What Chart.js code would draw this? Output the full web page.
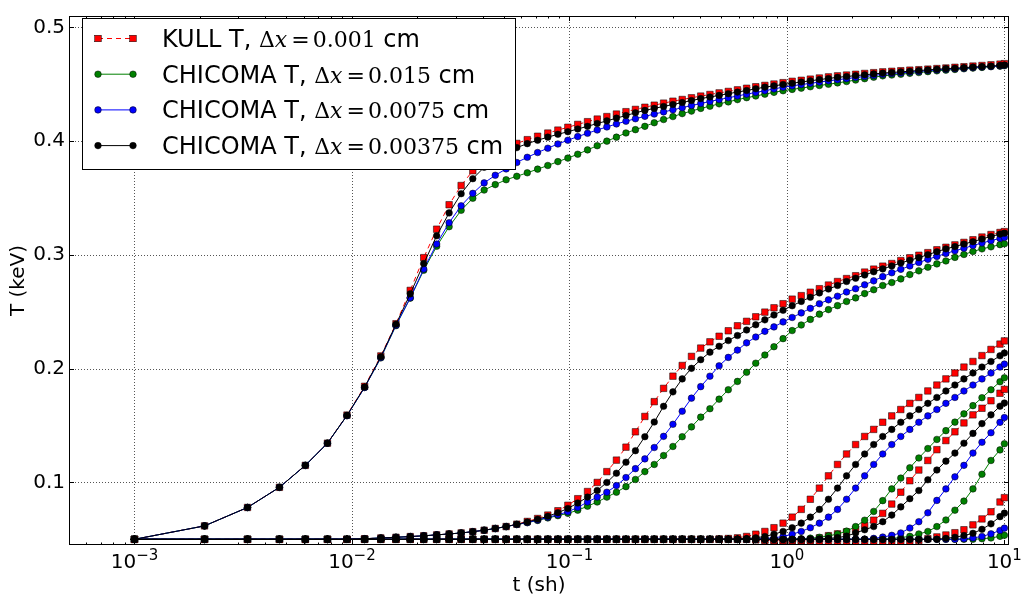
<!DOCTYPE html>
<html><head><meta charset="utf-8">
<script src="https://cdn.jsdelivr.net/npm/chart.js@4.4.1/dist/chart.umd.min.js"></script>
<style>html,body{margin:0;padding:0;background:#fff;}canvas{display:block;}</style>
</head><body>
<canvas id="c" width="1023" height="601"></canvas>
<script>
// ---- data ----
const times = [
0.001,0.0021,0.00331,0.004641,0.006105,0.007716,0.009487,0.011436,0.013579,0.015937,
0.018531,0.021384,0.024523,0.027975,0.031773,0.03595,0.040545,0.045599,0.051159,0.057275,
0.064003,0.071403,0.079543,0.088497,0.098347,0.109182,0.1211,0.13421,0.14863,0.16449,
0.18194,0.20114,0.22225,0.24548,0.27102,0.29913,0.33004,0.36404,0.40145,0.44259,
0.48785,0.53764,0.5924,0.65264,0.7189,0.7918,0.87197,0.96017,1.05719,1.16391,
1.2813,1.41043,1.55247,1.70872,1.88059,2.06965,2.27762,2.50638,2.75802,3.03481,
3.3393,3.67423,4.04165,4.44692,4.89271,5.38308,5.92249,6.51584,7.16851,7.8864,
8.67622,9.54494,10.0];

// KULL, dx = 0.001 cm (red squares)
const kullA = [
0.05,0.0618,0.078,0.0957,0.115,0.1345,0.1592,0.1845,0.2112,0.2395,
0.2688,0.2976,0.3226,0.3441,0.361,0.374,0.3835,0.39,0.3945,0.398,
0.4013,0.4043,0.4071,0.4097,0.4122,0.4147,0.4171,0.4194,0.4216,0.4238,
0.4259,0.4279,0.4298,0.4316,0.4334,0.4351,0.4366,0.4381,0.4396,0.441,
0.4424,0.4437,0.4451,0.4465,0.4478,0.449,0.4502,0.4514,0.4526,0.4535,
0.4545,0.4555,0.4565,0.4574,0.4581,0.4588,0.4595,0.4602,0.4609,0.4614,
0.4619,0.4624,0.4628,0.4633,0.4638,0.4643,0.4649,0.4654,0.466,0.4665,
0.4671,0.4677,0.4681];
const kullB = [
0.05,0.05,0.05,0.05,0.05,0.05,0.05,0.0505,0.0512,0.0518,
0.0524,0.0531,0.0539,0.0547,0.0556,0.0567,0.058,0.0595,0.0612,0.0633,
0.0657,0.0683,0.0713,0.0751,0.0799,0.0857,0.092,0.1,0.1095,0.1196,
0.131,0.1445,0.158,0.171,0.1827,0.1934,0.2028,0.2108,0.2181,0.2236,
0.2285,0.2333,0.2377,0.2416,0.2456,0.2497,0.2535,0.2571,0.2611,0.2642,
0.2672,0.2703,0.2735,0.2766,0.2792,0.2817,0.2849,0.2875,0.2901,0.2924,
0.295,0.2975,0.2997,0.302,0.3045,0.3067,0.3088,0.311,0.3133,0.3157,
0.3179,0.3197,0.3205];
const kullC = [
0.05,0.05,0.05,0.05,0.05,0.05,0.05,0.05,0.05,0.05,
0.05,0.05,0.05,0.05,0.05,0.05,0.05,0.05,0.05,0.05,
0.05,0.05,0.05,0.05,0.05,0.05,0.05,0.05,0.05,0.05,
0.05,0.05,0.05,0.05,0.05,0.05,0.05,0.05,0.05,0.05,
0.0503,0.0507,0.0513,0.0525,0.0545,0.0569,0.0602,0.0642,0.0695,0.0763,
0.0852,0.095,0.1058,0.1158,0.125,0.1333,0.1404,0.1466,0.1529,0.1585,
0.1641,0.1695,0.1747,0.1804,0.1856,0.191,0.1962,0.2014,0.2063,0.2115,
0.2169,0.2216,0.2244];
const kullD = [
0.05,0.05,0.05,0.05,0.05,0.05,0.05,0.05,0.05,0.05,
0.05,0.05,0.05,0.05,0.05,0.05,0.05,0.05,0.05,0.05,
0.05,0.05,0.05,0.05,0.05,0.05,0.05,0.05,0.05,0.05,
0.05,0.05,0.05,0.05,0.05,0.05,0.05,0.05,0.05,0.05,
0.05,0.05,0.05,0.05,0.0495,0.049,0.049,0.049,0.049,0.049,
0.0495,0.0512,0.0532,0.0548,0.0565,0.0588,0.0622,0.0668,0.0728,0.081,
0.0914,0.1015,0.1109,0.1193,0.1288,0.1368,0.1445,0.1523,0.1594,0.1652,
0.1718,0.1784,0.1818];
const kullE = [
0.05,0.05,0.05,0.05,0.05,0.05,0.05,0.05,0.05,0.05,
0.05,0.05,0.05,0.05,0.05,0.05,0.05,0.05,0.05,0.05,
0.05,0.05,0.05,0.05,0.05,0.05,0.05,0.05,0.05,0.05,
0.05,0.05,0.05,0.05,0.05,0.05,0.05,0.05,0.05,0.05,
0.05,0.05,0.05,0.05,0.05,0.0495,0.049,0.0485,0.0485,0.0485,
0.0485,0.0485,0.0485,0.0485,0.0485,0.0485,0.0485,0.0485,0.0485,0.0485,
0.0485,0.0485,0.049,0.0505,0.0521,0.0538,0.0558,0.0584,0.0627,0.0679,
0.0742,0.0828,0.0866];

// CHICOMA, dx = 0.015 cm (green)
const chi015A = [
0.05,0.0618,0.078,0.0957,0.115,0.1345,0.1587,0.1835,0.2095,0.2378,
0.262,0.2865,0.3076,0.3248,0.3392,0.3498,0.357,0.3618,0.3661,0.3691,
0.3722,0.3754,0.3786,0.382,0.3851,0.3885,0.3923,0.396,0.4,0.4035,
0.4072,0.4101,0.413,0.4162,0.419,0.4216,0.4242,0.4264,0.4288,0.4307,
0.4328,0.4345,0.4365,0.4382,0.4397,0.4413,0.4429,0.4443,0.4455,0.4466,
0.4478,0.4489,0.45,0.4512,0.4524,0.4537,0.4549,0.4562,0.4574,0.4581,
0.4588,0.4596,0.4603,0.4611,0.4618,0.4624,0.463,0.4636,0.4642,0.4648,
0.4654,0.4659,0.4663];
const chi015B = [
0.05,0.05,0.05,0.05,0.05,0.05,0.05,0.0505,0.0512,0.0518,
0.0524,0.0531,0.0539,0.0547,0.0556,0.0567,0.058,0.0595,0.0612,0.063,
0.0646,0.0666,0.0688,0.0708,0.0728,0.0756,0.0791,0.0828,0.0871,0.0914,
0.0963,0.1026,0.1095,0.1158,0.1236,0.1316,0.1402,0.1488,0.1574,0.1648,
0.1732,0.1815,0.1888,0.1968,0.2048,0.212,0.2193,0.2264,0.2335,0.2384,
0.2433,0.2479,0.2519,0.2554,0.2591,0.2622,0.266,0.2694,0.2731,0.2757,
0.2789,0.2827,0.286,0.2892,0.2921,0.2947,0.2978,0.3004,0.303,0.3053,
0.3071,0.309,0.3098];
const chi015C = [
0.05,0.05,0.05,0.05,0.05,0.05,0.05,0.05,0.05,0.05,
0.05,0.05,0.05,0.05,0.05,0.05,0.05,0.05,0.05,0.05,
0.05,0.05,0.05,0.05,0.05,0.05,0.05,0.05,0.05,0.05,
0.05,0.05,0.05,0.05,0.05,0.05,0.05,0.05,0.05,0.05,
0.05,0.05,0.05,0.05,0.05,0.05,0.05,0.05,0.0502,0.0505,
0.051,0.0518,0.053,0.0546,0.0572,0.0612,0.0668,0.0745,0.084,0.0943,
0.1038,0.1129,0.1215,0.1298,0.1378,0.1455,0.153,0.1603,0.1675,0.1745,
0.1815,0.1885,0.192];
const chi015D = [
0.05,0.05,0.05,0.05,0.05,0.05,0.05,0.05,0.05,0.05,
0.05,0.05,0.05,0.05,0.05,0.05,0.05,0.05,0.05,0.05,
0.05,0.05,0.05,0.05,0.05,0.05,0.05,0.05,0.05,0.05,
0.05,0.05,0.05,0.05,0.05,0.05,0.05,0.05,0.05,0.05,
0.05,0.05,0.05,0.05,0.05,0.05,0.05,0.05,0.05,0.05,
0.05,0.05,0.05,0.05,0.05,0.05,0.05,0.05,0.05,0.0508,
0.0515,0.0526,0.0547,0.0569,0.0612,0.067,0.0756,0.0836,0.0943,0.1072,
0.1193,0.1286,0.134];
const chi015E = [
0.05,0.05,0.05,0.05,0.05,0.05,0.05,0.05,0.05,0.05,
0.05,0.05,0.05,0.05,0.05,0.05,0.05,0.05,0.05,0.05,
0.05,0.05,0.05,0.05,0.05,0.05,0.05,0.05,0.05,0.05,
0.05,0.05,0.05,0.05,0.05,0.05,0.05,0.05,0.05,0.05,
0.05,0.05,0.05,0.05,0.05,0.05,0.05,0.05,0.05,0.05,
0.05,0.05,0.05,0.05,0.05,0.05,0.05,0.05,0.05,0.05,
0.05,0.05,0.05,0.05,0.05,0.05,0.05,0.05,0.05,0.0505,
0.0512,0.0526,0.0535];

// CHICOMA, dx = 0.0075 cm (blue)
const chi0075A = [
0.05,0.0618,0.078,0.0957,0.115,0.1345,0.1587,0.1835,0.2098,0.2382,
0.2623,0.2875,0.3096,0.3283,0.3432,0.3541,0.3633,0.37,0.3756,0.3812,
0.3858,0.39,0.3938,0.3975,0.4008,0.404,0.4069,0.4098,0.4125,0.4151,
0.4175,0.4197,0.4218,0.4238,0.4257,0.4275,0.4294,0.4313,0.4331,0.4349,
0.4365,0.4381,0.4397,0.4413,0.4428,0.4443,0.4459,0.4474,0.4486,0.4497,
0.4508,0.4519,0.453,0.454,0.4549,0.4559,0.4568,0.4578,0.4587,0.4594,
0.46,0.4607,0.4613,0.462,0.4626,0.4631,0.4636,0.4641,0.4647,0.4652,
0.4657,0.4662,0.4667];
const chi0075B = [
0.05,0.05,0.05,0.05,0.05,0.05,0.05,0.0505,0.0512,0.0518,
0.0524,0.0531,0.0539,0.0547,0.0556,0.0567,0.058,0.0595,0.0612,0.063,
0.0648,0.0669,0.0693,0.0716,0.0742,0.078,0.0828,0.0871,0.0914,0.0972,
0.1043,0.1121,0.1207,0.1307,0.1405,0.1511,0.1626,0.1741,0.1842,0.1934,
0.2025,0.2099,0.2163,0.2227,0.2278,0.2328,0.2367,0.2411,0.245,0.249,
0.253,0.2571,0.2605,0.2637,0.2674,0.2703,0.2737,0.2772,0.2809,0.2843,
0.2873,0.2903,0.2933,0.2961,0.2987,0.3013,0.3036,0.3059,0.3082,0.3105,
0.3125,0.3145,0.3153];
const chi0075C = [
0.05,0.05,0.05,0.05,0.05,0.05,0.05,0.05,0.05,0.05,
0.05,0.05,0.05,0.05,0.05,0.05,0.05,0.05,0.05,0.05,
0.05,0.05,0.05,0.05,0.05,0.05,0.05,0.05,0.05,0.05,
0.05,0.05,0.05,0.05,0.05,0.05,0.05,0.05,0.05,0.05,
0.05,0.05,0.05,0.05,0.0503,0.0507,0.0513,0.0525,0.0545,0.0569,
0.0602,0.0642,0.0695,0.0763,0.0852,0.095,0.1058,0.1158,0.125,0.1333,
0.1404,0.1466,0.1529,0.1585,0.1641,0.1695,0.1747,0.1804,0.1856,0.191,
0.1962,0.2014,0.204];
const chi0075D = [
0.05,0.05,0.05,0.05,0.05,0.05,0.05,0.05,0.05,0.05,
0.05,0.05,0.05,0.05,0.05,0.05,0.05,0.05,0.05,0.05,
0.05,0.05,0.05,0.05,0.05,0.05,0.05,0.05,0.05,0.05,
0.05,0.05,0.05,0.05,0.05,0.05,0.05,0.05,0.05,0.05,
0.05,0.05,0.05,0.05,0.05,0.05,0.05,0.05,0.05,0.05,
0.05,0.05,0.05,0.05,0.05,0.05,0.05,0.0508,0.052,0.0535,
0.0556,0.0599,0.0655,0.0733,0.0842,0.0943,0.1049,0.115,0.1258,0.1353,
0.1437,0.1528,0.157];
const chi0075E = [
0.05,0.05,0.05,0.05,0.05,0.05,0.05,0.05,0.05,0.05,
0.05,0.05,0.05,0.05,0.05,0.05,0.05,0.05,0.05,0.05,
0.05,0.05,0.05,0.05,0.05,0.05,0.05,0.05,0.05,0.05,
0.05,0.05,0.05,0.05,0.05,0.05,0.05,0.05,0.05,0.05,
0.05,0.05,0.05,0.05,0.05,0.05,0.05,0.05,0.05,0.05,
0.05,0.05,0.05,0.05,0.05,0.05,0.05,0.05,0.05,0.05,
0.05,0.05,0.05,0.05,0.05,0.05,0.05,0.0505,0.0512,0.0525,
0.0548,0.0578,0.0598];

// CHICOMA, dx = 0.00375 cm (black)
const chi00375A = [
0.05,0.0618,0.078,0.0957,0.115,0.1345,0.1589,0.1839,0.2105,0.239,
0.2657,0.2924,0.3168,0.3369,0.3538,0.367,0.377,0.3845,0.3895,0.3943,
0.3978,0.4008,0.4035,0.406,0.4083,0.4107,0.413,0.4155,0.4178,0.4202,
0.4225,0.4249,0.427,0.4288,0.4305,0.4322,0.4339,0.4357,0.4374,0.4388,
0.4402,0.4417,0.4431,0.4445,0.446,0.4475,0.4486,0.4498,0.4509,0.452,
0.453,0.4541,0.4551,0.4561,0.4568,0.4576,0.4583,0.4591,0.4598,0.4604,
0.4609,0.4615,0.4621,0.4626,0.4632,0.4637,0.4641,0.4646,0.4651,0.4655,
0.466,0.4665,0.4669];
const chi00375B = [
0.05,0.05,0.05,0.05,0.05,0.05,0.05,0.0505,0.0512,0.0518,
0.0524,0.0531,0.0539,0.0547,0.0556,0.0567,0.058,0.0595,0.0612,0.0632,
0.0652,0.0676,0.0703,0.0734,0.0771,0.0819,0.0871,0.0929,0.1,0.1081,
0.1178,0.1279,0.1402,0.1531,0.1669,0.1796,0.191,0.2003,0.2079,0.2145,
0.2197,0.2247,0.2291,0.234,0.2386,0.2429,0.2472,0.2513,0.2553,0.2591,
0.2628,0.2666,0.27,0.2731,0.2766,0.2795,0.2823,0.2852,0.2877,0.2903,
0.2929,0.2953,0.2976,0.3002,0.3028,0.3053,0.3073,0.3096,0.3116,0.314,
0.3162,0.3183,0.3191];
const chi00375C = [
0.05,0.05,0.05,0.05,0.05,0.05,0.05,0.05,0.05,0.05,
0.05,0.05,0.05,0.05,0.05,0.05,0.05,0.05,0.05,0.05,
0.05,0.05,0.05,0.05,0.05,0.05,0.05,0.05,0.05,0.05,
0.05,0.05,0.05,0.05,0.05,0.05,0.05,0.05,0.05,0.05,
0.05,0.05,0.0503,0.0507,0.0513,0.0525,0.0545,0.0569,0.0602,0.0642,
0.0695,0.0763,0.0852,0.095,0.1058,0.1158,0.125,0.1333,0.1404,0.1466,
0.1529,0.1585,0.1641,0.1695,0.1747,0.1804,0.1856,0.191,0.1962,0.2014,
0.2063,0.2113,0.2138];
const chi00375D = [
0.05,0.05,0.05,0.05,0.05,0.05,0.05,0.05,0.05,0.05,
0.05,0.05,0.05,0.05,0.05,0.05,0.05,0.05,0.05,0.05,
0.05,0.05,0.05,0.05,0.05,0.05,0.05,0.05,0.05,0.05,
0.05,0.05,0.05,0.05,0.05,0.05,0.05,0.05,0.05,0.05,
0.05,0.05,0.05,0.05,0.05,0.05,0.05,0.05,0.05,0.05,
0.05,0.0503,0.0508,0.0515,0.0528,0.0556,0.0584,0.0612,0.0655,0.0713,
0.0785,0.0857,0.0929,0.1023,0.1109,0.1187,0.1258,0.1345,0.1431,0.1517,
0.1594,0.167,0.1698];
const chi00375E = [
0.05,0.05,0.05,0.05,0.05,0.05,0.05,0.05,0.05,0.05,
0.05,0.05,0.05,0.05,0.05,0.05,0.05,0.05,0.05,0.05,
0.05,0.05,0.05,0.05,0.05,0.05,0.05,0.05,0.05,0.05,
0.05,0.05,0.05,0.05,0.05,0.05,0.05,0.05,0.05,0.05,
0.05,0.05,0.05,0.05,0.05,0.05,0.05,0.05,0.05,0.05,
0.05,0.05,0.05,0.05,0.05,0.05,0.05,0.05,0.05,0.05,
0.05,0.05,0.05,0.05,0.05,0.0508,0.0518,0.0533,0.0553,0.0588,
0.0636,0.0699,0.073];

// ---- ticks and text ----
const xMajorTicks = [0.001, 0.01, 0.1, 1, 10];
const xTickBase = '10';
const xTickExponents = ['\u22123', '\u22122', '\u22121', '0', '1'];
const yTicks = [0.1, 0.2, 0.3, 0.4, 0.5];
const yTickLabels = ['0.1', '0.2', '0.3', '0.4', '0.5'];
const xTitle = 't (sh)';
const yTitle = 'T (keV)';
const seriesNames = ['KULL T', 'CHICOMA T', 'CHICOMA T', 'CHICOMA T'];
const seriesDx = ['0.001', '0.015', '0.0075', '0.00375'];

// ---- styling ----
const groups = [
  {name: seriesNames[0], dx: seriesDx[0], color: '#ff0000', style: 'rect', radius: 4.6, dash: [5, 4], order: 4,
   curves: [kullA, kullB, kullC, kullD, kullE]},
  {name: seriesNames[1], dx: seriesDx[1], color: '#008000', style: 'circle', radius: 3.3, dash: [], order: 3,
   curves: [chi015A, chi015B, chi015C, chi015D, chi015E]},
  {name: seriesNames[2], dx: seriesDx[2], color: '#0000ff', style: 'circle', radius: 3.3, dash: [], order: 2,
   curves: [chi0075A, chi0075B, chi0075C, chi0075D, chi0075E]},
  {name: seriesNames[3], dx: seriesDx[3], color: '#000000', style: 'circle', radius: 3.3, dash: [], order: 1,
   curves: [chi00375A, chi00375B, chi00375C, chi00375D, chi00375E]}
];

const datasets = [];
groups.forEach(g => {
  g.curves.forEach(vals => {
    datasets.push({
      label: g.name + ', \u0394x = ' + g.dx + ' cm',
      data: times.map((t, i) => ({x: t, y: vals[i]})),
      borderColor: g.color,
      backgroundColor: g.color,
      borderWidth: 1,
      borderDash: g.dash,
      pointStyle: g.style,
      pointRadius: g.radius,
      pointBackgroundColor: g.color,
      pointBorderColor: '#000',
      pointBorderWidth: 0.5,
      order: g.order,
      fill: false,
      tension: 0
    });
  });
});

function drawMarker(ctx, g, x, y) {
  ctx.save();
  ctx.setLineDash([]);
  ctx.fillStyle = g.color;
  ctx.strokeStyle = '#000';
  ctx.lineWidth = 0.5;
  if (g.style === 'rect') {
    const h = g.radius * Math.SQRT1_2;
    ctx.fillRect(x - h, y - h, 2 * h, 2 * h);
    ctx.strokeRect(x - h, y - h, 2 * h, 2 * h);
  } else {
    ctx.beginPath();
    ctx.arc(x, y, g.radius, 0, Math.PI * 2);
    ctx.fill();
    ctx.stroke();
  }
  ctx.restore();
}

const decor = {
  id: 'decor',
  beforeDatasetsDraw(chart) {
    const {ctx, chartArea: a, scales: {x, y}} = chart;
    ctx.save();
    ctx.strokeStyle = '#555';
    ctx.lineWidth = 1;
    ctx.setLineDash([1, 2]);
    xMajorTicks.forEach(v => {
      const px = Math.round(x.getPixelForValue(v)) + 0.5;
      ctx.beginPath(); ctx.moveTo(px, a.top); ctx.lineTo(px, a.bottom); ctx.stroke();
    });
    yTicks.forEach(v => {
      const py = Math.round(y.getPixelForValue(v)) + 0.5;
      ctx.beginPath(); ctx.moveTo(a.left, py); ctx.lineTo(a.right, py); ctx.stroke();
    });
    ctx.restore();
  },
  afterDatasetsDraw(chart) {
    const {ctx, chartArea: a, scales: {x, y}} = chart;
    ctx.save();
    ctx.setLineDash([]);
    ctx.strokeStyle = '#000';
    ctx.lineWidth = 1;
    // tick marks (inside, all four sides)
    const minors = [];
    for (let e = -4; e <= 1; e++) for (let m = 2; m <= 9; m++) {
      const v = m * Math.pow(10, e);
      if (v > x.min && v < x.max) minors.push(v);
    }
    ctx.beginPath();
    xMajorTicks.forEach(v => {
      const px = Math.round(x.getPixelForValue(v)) + 0.5;
      ctx.moveTo(px, a.bottom); ctx.lineTo(px, a.bottom - 5);
      ctx.moveTo(px, a.top); ctx.lineTo(px, a.top + 5);
    });
    minors.forEach(v => {
      const px = Math.round(x.getPixelForValue(v)) + 0.5;
      ctx.moveTo(px, a.bottom); ctx.lineTo(px, a.bottom - 2.5);
      ctx.moveTo(px, a.top); ctx.lineTo(px, a.top + 2.5);
    });
    yTicks.forEach(v => {
      const py = Math.round(y.getPixelForValue(v)) + 0.5;
      ctx.moveTo(a.left, py); ctx.lineTo(a.left + 5, py);
      ctx.moveTo(a.right, py); ctx.lineTo(a.right - 5, py);
    });
    ctx.stroke();
    // frame
    ctx.strokeRect(a.left + 0.5, a.top + 0.5, a.right - a.left - 1, a.bottom - a.top - 1);

    // x tick labels: base with raised exponent
    ctx.fillStyle = '#000';
    ctx.textAlign = 'left';
    ctx.textBaseline = 'alphabetic';
    xMajorTicks.forEach((v, i) => {
      const px = x.getPixelForValue(v);
      ctx.font = '20px "DejaVu Sans"';
      const w1 = ctx.measureText(xTickBase).width;
      ctx.font = '15px "DejaVu Sans"';
      const w2 = ctx.measureText(xTickExponents[i]).width;
      const left = px - (w1 + w2) / 2;
      ctx.font = '20px "DejaVu Sans"';
      ctx.fillText(xTickBase, left, 568);
      ctx.font = '15px "DejaVu Sans"';
      ctx.fillText(xTickExponents[i], left + w1, 559.5);
    });

    // legend
    const bx = 82, by = 18, bw = 433, bh = 151;
    ctx.fillStyle = '#fff';
    ctx.fillRect(bx, by, bw, bh);
    ctx.strokeStyle = '#000';
    ctx.lineWidth = 1;
    ctx.strokeRect(bx + 0.5, by + 0.5, bw, bh);
    groups.forEach((g, i) => {
      const cy = 38.5 + i * 35.7;
      ctx.strokeStyle = g.color;
      ctx.lineWidth = 1;
      ctx.setLineDash(g.dash);
      ctx.beginPath(); ctx.moveTo(98, cy); ctx.lineTo(133, cy); ctx.stroke();
      ctx.setLineDash([]);
      drawMarker(ctx, g, 98, cy);
      drawMarker(ctx, g, 133, cy);
      const base = cy + 8.3;
      let tx = 162;
      ctx.fillStyle = '#000';
      ctx.textAlign = 'left';
      ctx.textBaseline = 'alphabetic';
      ctx.font = '24px "DejaVu Sans"';
      const t1 = g.name + ', ';
      ctx.fillText(t1, tx, base); tx += ctx.measureText(t1).width;
      ctx.font = '22px "DejaVu Serif"';
      ctx.fillText('\u0394', tx, base); tx += ctx.measureText('\u0394').width;
      ctx.font = 'italic 22px "DejaVu Serif"';
      ctx.fillText('x', tx, base); tx += ctx.measureText('x').width + 4;
      ctx.font = '22px "DejaVu Serif"';
      ctx.fillText('=', tx, base); tx += ctx.measureText('=').width + 3;
      ctx.fillText(g.dx, tx, base); tx += ctx.measureText(g.dx).width;
      ctx.font = '24px "DejaVu Sans"';
      ctx.fillText(' cm', tx, base);
    });
    ctx.restore();
  }
};

new Chart(document.getElementById('c'), {
  type: 'line',
  data: {datasets},
  options: {
    responsive: false,
    animation: false,
    devicePixelRatio: 1,
    layout: {padding: {left: 0, right: 14, top: 6, bottom: 0}},
    plugins: {legend: {display: false}, tooltip: {enabled: false}},
    scales: {
      x: {
        type: 'logarithmic', min: 5e-4, max: 10.5,
        afterBuildTicks(s) { s.ticks = xMajorTicks.map(v => ({value: v})); },
        afterFit(s) { s.height = 56; },
        grid: {display: false, drawTicks: false},
        border: {display: false},
        ticks: {display: false},
        title: {display: true, text: xTitle, color: '#000', font: {family: 'DejaVu Sans', size: 20},
                padding: {top: 0, bottom: 3}}
      },
      y: {
        type: 'linear', min: 0.045, max: 0.51,
        afterBuildTicks(s) { s.ticks = yTicks.map(v => ({value: v})); },
        afterFit(s) { s.width = 69; },
        grid: {display: false, drawTicks: false},
        border: {display: false},
        ticks: {padding: 4, color: '#000', font: {family: 'DejaVu Sans', size: 20},
                callback: (v, i) => yTickLabels[i]},
        title: {display: true, text: yTitle, color: '#000', font: {family: 'DejaVu Sans', size: 20},
                padding: {top: 7, bottom: 0}}
      }
    }
  },
  plugins: [decor]
});
</script>
</body></html>
